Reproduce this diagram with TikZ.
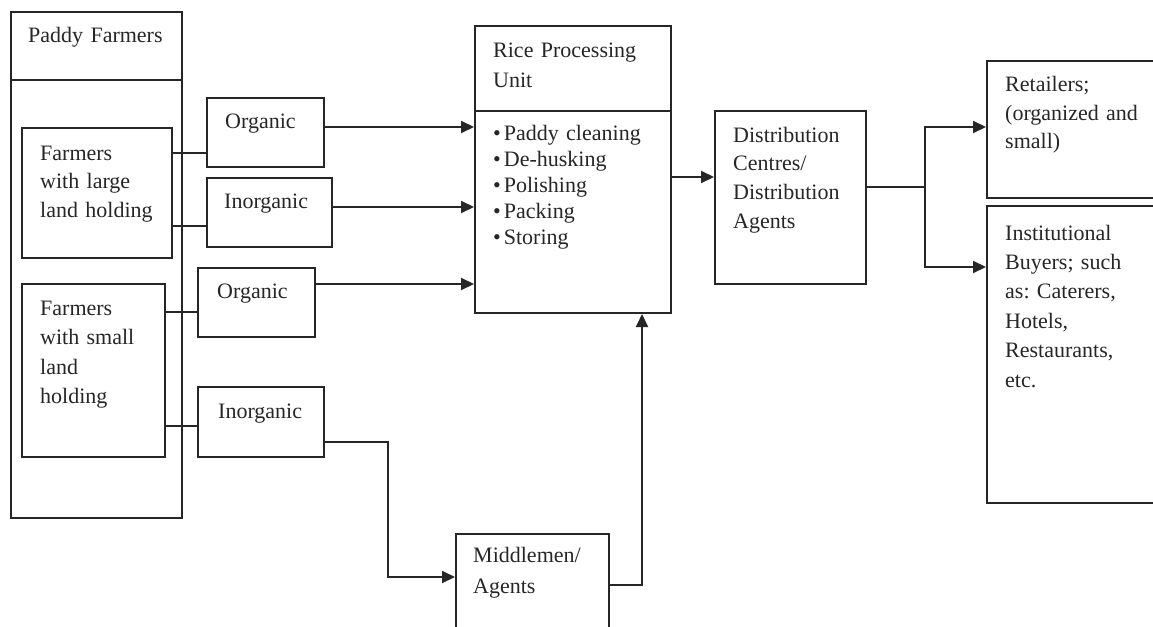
\documentclass[tikz,border=0pt]{standalone}
\usepackage{fontspec}
\setmainfont{Liberation Serif}[WordSpace=0.8]
\usetikzlibrary{arrows.meta}
\frenchspacing
\tikzset{
  box/.style={draw=black!85, line width=2pt, anchor=north west, inner sep=0pt},
  txt/.style={anchor=base west, inner sep=0pt, align=left, text width=#1, text=black!85},
  link/.style={draw=black!85, line width=2pt},
  arr/.style={link, -{Triangle[length=13pt,width=12pt]}},
}
\begin{document}
\begin{tikzpicture}[x=1pt,y=-1pt,font=\fontsize{22}{28.5}\selectfont]
 \useasboundingbox (0,0) rectangle (1153,626);
 \clip (0,0) rectangle (1153,626);
 % farmers
 \node[box,minimum width=171pt,minimum height=506pt] (farmers) at (10,11) {};
 \draw[link] (farmers.west |- 0,80) -- (farmers.east |- 0,80);
 \node[txt=150pt] (farmerstitle) at (28,43) {Paddy Farmers};
 \node[box,minimum width=150pt,minimum height=130pt] (large) at (21,127) {};
 \node[txt=130pt] (largetext) at (40,160) {Farmers\\with large\\land holding};
 \node[box,minimum width=143pt,minimum height=173pt] (small) at (21,283) {};
 \node[txt=120pt,font=\fontsize{22}{29.5}\selectfont] (smalltext) at (40,315) {Farmers\\with small\\land\\holding};
 % organic / inorganic
 \node[box,minimum width=117pt,minimum height=69pt] (org1) at (206,97) {};
 \node[txt=100pt] (org1text) at (225,128) {Organic};
 \node[box,minimum width=125pt,minimum height=69pt] (inorg1) at (206,177) {};
 \node[txt=110pt] (inorg1text) at (224,208) {Inorganic};
 \node[box,minimum width=117pt,minimum height=69pt] (org2) at (197,267) {};
 \node[txt=100pt] (org2text) at (217,298) {Organic};
 \node[box,minimum width=126pt,minimum height=70pt] (inorg2) at (197,386) {};
 \node[txt=110pt] (inorg2text) at (218,418) {Inorganic};
 % processing
 \node[box,minimum width=196pt,minimum height=287pt] (rice) at (474,25) {};
 \draw[link] (rice.west |- 0,111) -- (rice.east |- 0,111);
 \node[txt=180pt,font=\fontsize{22}{29}\selectfont] (ricetitle) at (493,58) {Rice Processing\\Unit};
 \node[txt=180pt,font=\fontsize{22}{26.2}\selectfont] (ricesteps) at (493,140)
   {\textbullet\kern3pt Paddy cleaning\\\textbullet\kern3pt De-husking\\\textbullet\kern3pt Polishing\\\textbullet\kern3pt Packing\\\textbullet\kern3pt Storing};
 \node[box,minimum width=153pt,minimum height=110pt] (middle) at (455,533) {};
 \node[txt=130pt,font=\fontsize{22}{31}\selectfont] (middletext) at (473,562) {Middlemen/\\Agents};
 % distribution
 \node[box,minimum width=151pt,minimum height=173pt] (dist) at (714,110) {};
 \node[txt=140pt,font=\fontsize{22}{28.7}\selectfont] (disttext) at (733,142) {Distribution\\Centres/\\Distribution\\Agents};
 \node[box,minimum width=190pt,minimum height=137pt] (retail) at (986,60) {};
 \node[txt=150pt] (retailtext) at (1005,92) {Retailers;\\(organized and\\small)};
 \node[box,minimum width=190pt,minimum height=297pt] (inst) at (986,205) {};
 \node[txt=150pt,font=\fontsize{22}{29.4}\selectfont] (insttext) at (1005,240)
   {Institutional\\Buyers; such\\as: Caterers,\\Hotels,\\Restaurants,\\etc.};
 % connectors
 \draw[link] (large.east |- 0,153) -- (org1.west |- 0,153);
 \draw[link] (large.east |- 0,226) -- (inorg1.west |- 0,226);
 \draw[link] (small.east |- 0,312) -- (org2.west |- 0,312);
 \draw[link] (small.east |- 0,426) -- (inorg2.west |- 0,426);
 \draw[arr] (org1.east |- 0,127) -- (rice.west |- 0,127);
 \draw[arr] (inorg1.east |- 0,207) -- (rice.west |- 0,207);
 \draw[arr] (org2.east |- 0,284) -- (rice.west |- 0,284);
 \draw[arr] (inorg2.east |- 0,442) -- (388,442) |- (middle.west |- 0,577);
 \draw[arr] (middle.east |- 0,585) -| (642,0 |- rice.south);
 \draw[arr] (rice.east |- 0,177) -- (dist.west |- 0,177);
 \coordinate (split) at (925,187);
 \draw[link] (dist.east |- split) -- (split);
 \draw[arr] (split) |- (retail.west |- 0,127);
 \draw[arr] (split) |- (inst.west |- 0,267);
\end{tikzpicture}
\end{document}
